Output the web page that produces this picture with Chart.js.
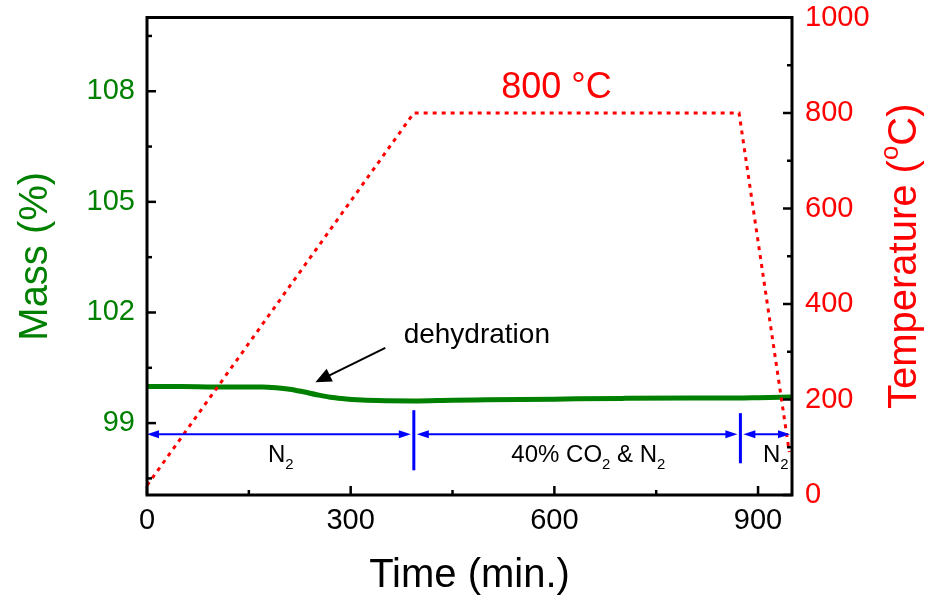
<!DOCTYPE html>
<html>
<head>
<meta charset="utf-8">
<script src="https://cdn.jsdelivr.net/npm/chart.js@4"></script>
<style>
  html, body { margin: 0; padding: 0; background: #fff; }
  #wrap { width: 944px; height: 600px; }
</style>
</head>
<body>
<div id="wrap"><canvas id="tgaChart"></canvas></div>
<script>
// mass curve (time in min., mass in %)
const massTime = [0, 50, 100, 150, 170, 190, 210, 230, 250, 270, 290, 310, 340, 393, 450, 500, 600, 700, 800, 870, 900, 950];
const massValues = [99.99, 99.99, 99.98, 99.98, 99.98, 99.96, 99.92, 99.85, 99.77, 99.70, 99.66, 99.63, 99.61, 99.60, 99.62, 99.63, 99.65, 99.67, 99.68, 99.68, 99.69, 99.71];

// furnace temperature program
const tempTime = [0, 393, 872, 946];
const tempValues = [20, 800, 800, 90];

// axis ticks
const timeTicks = [0, 300, 600, 900];
const timeMinorTicks = [150, 450, 750];
const massTicks = [99, 102, 105, 108];
const massMinorTicks = [97.5, 100.5, 103.5, 106.5, 109.5];
const tempTicks = [0, 200, 400, 600, 800, 1000];
const tempMinorTicks = [100, 300, 500, 700, 900];

// gas atmosphere phases
const phaseBounds = [0, 393, 874, 950];
const phaseNames = ["N2", "40% CO2 & N2", "N2"];
const phaseLabelTime = [197, 650, 926];
const phaseLabelMass = 98.12;
const phaseArrowMass = 98.7;
const dividerTime = [393, 874];
const dividerTop = [99.35, 99.27];
const dividerBottom = [97.72, 97.91];

// annotations
const dehydrationText = { time: 378, mass: 101.17, text: "dehydration" };
const dehydrationArrow = { fromTime: 351, fromMass: 101.04, toTime: 248, toMass: 100.11 };
const plateauText = { time: 603, temp: 852, text: "800 °C" };

const GREEN = "#008000";
const RED = "#ff0000";
const BLUE = "#0000ff";
const FONT = "'Liberation Sans', Arial, sans-serif";

function arrowHead(ctx, tipX, tipY, fromX, fromY, len, half) {
  const a = Math.atan2(tipY - fromY, tipX - fromX);
  ctx.beginPath();
  ctx.moveTo(tipX, tipY);
  ctx.lineTo(tipX - len * Math.cos(a) + half * Math.sin(a), tipY - len * Math.sin(a) - half * Math.cos(a));
  ctx.lineTo(tipX - len * Math.cos(a) - half * Math.sin(a), tipY - len * Math.sin(a) + half * Math.cos(a));
  ctx.closePath();
  ctx.fill();
}

// draws text with a "2" after a letter as subscript, centred on cx
function drawSubText(ctx, text, cx, cy, size) {
  const parts = [];
  for (let i = 0; i < text.length; i++) {
    const sub = text[i] === "2" && /[A-Z]/.test(text[i - 1] || "");
    parts.push({ ch: text[i], sub: sub });
  }
  let total = 0;
  parts.forEach((p) => {
    ctx.font = (p.sub ? size * 0.62 : size) + "px " + FONT;
    p.w = ctx.measureText(p.ch).width;
    total += p.w;
  });
  let x = cx - total / 2;
  ctx.textAlign = "left";
  ctx.textBaseline = "middle";
  parts.forEach((p) => {
    ctx.font = (p.sub ? size * 0.62 : size) + "px " + FONT;
    ctx.fillText(p.ch, x, p.sub ? cy + size * 0.38 : cy);
    x += p.w;
  });
}

const decorations = {
  id: "decorations",
  afterDatasetsDraw(chart) {
    const ctx = chart.ctx;
    const xs = chart.scales.x;
    const ym = chart.scales.yMass;
    const yt = chart.scales.yTemp;
    ctx.save();

    // phase arrows
    ctx.strokeStyle = BLUE;
    ctx.fillStyle = BLUE;
    const ay = ym.getPixelForValue(phaseArrowMass);
    for (let i = 0; i < phaseNames.length; i++) {
      const x1 = xs.getPixelForValue(phaseBounds[i]) + (i === 0 ? 0 : 3);
      const x2 = xs.getPixelForValue(phaseBounds[i + 1]) - (i === phaseNames.length - 1 ? 2 : 3);
      ctx.lineWidth = 2;
      ctx.beginPath();
      ctx.moveTo(x1 + 6, ay);
      ctx.lineTo(x2 - 6, ay);
      ctx.stroke();
      arrowHead(ctx, x1, ay, x2, ay, 12, 4);
      arrowHead(ctx, x2, ay, x1, ay, 12, 4);
    }
    ctx.lineWidth = 3;
    dividerTime.forEach((t, i) => {
      const x = xs.getPixelForValue(t);
      ctx.beginPath();
      ctx.moveTo(x, ym.getPixelForValue(dividerTop[i]));
      ctx.lineTo(x, ym.getPixelForValue(dividerBottom[i]));
      ctx.stroke();
    });

    ctx.fillStyle = "#000";
    const ly = ym.getPixelForValue(phaseLabelMass);
    phaseNames.forEach((name, i) => {
      drawSubText(ctx, name, xs.getPixelForValue(phaseLabelTime[i]), ly, 24);
    });

    // dehydration note
    ctx.font = "28px " + FONT;
    ctx.textAlign = "left";
    ctx.textBaseline = "alphabetic";
    ctx.fillText(dehydrationText.text, xs.getPixelForValue(dehydrationText.time), ym.getPixelForValue(dehydrationText.mass));
    const fx = xs.getPixelForValue(dehydrationArrow.fromTime);
    const fy = ym.getPixelForValue(dehydrationArrow.fromMass);
    const tx = xs.getPixelForValue(dehydrationArrow.toTime);
    const ty = ym.getPixelForValue(dehydrationArrow.toMass);
    ctx.strokeStyle = "#000";
    ctx.lineWidth = 2;
    ctx.beginPath();
    ctx.moveTo(fx, fy);
    ctx.lineTo(tx + (fx - tx) * 0.15, ty + (fy - ty) * 0.15);
    ctx.stroke();
    arrowHead(ctx, tx, ty, fx, fy, 16, 7);

    // plateau temperature
    ctx.fillStyle = RED;
    ctx.font = "36px " + FONT;
    ctx.textAlign = "center";
    ctx.textBaseline = "middle";
    ctx.fillText(plateauText.text, xs.getPixelForValue(plateauText.time), yt.getPixelForValue(plateauText.temp));

    ctx.restore();
  },
  afterDraw(chart) {
    const ctx = chart.ctx;
    const a = chart.chartArea;
    const xs = chart.scales.x;
    const ym = chart.scales.yMass;
    const yt = chart.scales.yTemp;
    ctx.save();
    ctx.strokeStyle = "#000";
    ctx.lineWidth = 3;
    ctx.strokeRect(a.left, a.top, a.right - a.left, a.bottom - a.top);

    ctx.lineWidth = 2.5;
    const line = (x1, y1, x2, y2) => {
      ctx.beginPath();
      ctx.moveTo(x1, y1);
      ctx.lineTo(x2, y2);
      ctx.stroke();
    };
    timeTicks.forEach((v) => { const x = xs.getPixelForValue(v); line(x, a.bottom, x, a.bottom - 9); });
    timeMinorTicks.forEach((v) => { const x = xs.getPixelForValue(v); line(x, a.bottom, x, a.bottom - 5); });
    massTicks.forEach((v) => { const y = ym.getPixelForValue(v); line(a.left, y, a.left + 9, y); });
    massMinorTicks.forEach((v) => { const y = ym.getPixelForValue(v); line(a.left, y, a.left + 5, y); });
    tempTicks.forEach((v) => { const y = yt.getPixelForValue(v); line(a.right, y, a.right - 9, y); });
    tempMinorTicks.forEach((v) => { const y = yt.getPixelForValue(v); line(a.right, y, a.right - 5, y); });

    // right axis title, read bottom to top, with superscript "o"
    const parts = [["Temperature (", 40, 0], ["o", 26, -14], ["C)", 40, 0]];
    let total = 0;
    parts.forEach((p) => { ctx.font = p[1] + "px " + FONT; total += ctx.measureText(p[0]).width; });
    ctx.translate(yt.right - 39, (a.top + a.bottom) / 2);
    ctx.rotate(-Math.PI / 2);
    ctx.fillStyle = RED;
    ctx.textAlign = "left";
    ctx.textBaseline = "middle";
    let x = -total / 2;
    parts.forEach((p) => {
      ctx.font = p[1] + "px " + FONT;
      ctx.fillText(p[0], x, p[2]);
      x += ctx.measureText(p[0]).width;
    });
    ctx.restore();
  }
};

const tickFont = { family: FONT, size: 29 };
const titleFont = { family: FONT, size: 40 };

// keep the plot frame where the reference has it
function fixY(width) {
  return (s) => { s.width = width; s.paddingTop = 0; s.paddingBottom = 0; };
}

new Chart(document.getElementById("tgaChart"), {
  type: "line",
  data: {
    datasets: [
      {
        label: "Temperature",
        data: tempTime.map((t, i) => ({ x: t, y: tempValues[i] })),
        yAxisID: "yTemp",
        borderColor: RED,
        borderWidth: 3,
        borderDash: [4, 5],
        pointRadius: 0,
        fill: false,
        tension: 0,
      },
      {
        label: "Mass",
        data: massTime.map((t, i) => ({ x: t, y: massValues[i] })),
        yAxisID: "yMass",
        borderColor: GREEN,
        borderWidth: 5,
        pointRadius: 0,
        fill: false,
        cubicInterpolationMode: "monotone",
      },
    ],
  },
  options: {
    responsive: true,
    maintainAspectRatio: false,
    animation: false,
    layout: { padding: { top: 17.5, left: 0, right: 0, bottom: 0 } },
    plugins: {
      legend: { display: false },
      tooltip: { enabled: false },
    },
    scales: {
      x: {
        type: "linear",
        min: 0,
        max: 950,
        grid: { display: false, drawTicks: false },
        border: { display: false },
        afterBuildTicks: (s) => { s.ticks = timeTicks.map((v) => ({ value: v })); },
        afterFit: (s) => { s.height = 105; s.paddingLeft = 0; s.paddingRight = 0; },
        ticks: { color: "#000", font: tickFont, padding: 9, maxRotation: 0, autoSkip: false, callback: (v) => String(v) },
        title: { display: true, text: "Time (min.)", color: "#000", font: titleFont, padding: { top: 0, bottom: 0 } },
      },
      yMass: {
        position: "left",
        min: 97.05,
        max: 110,
        grid: { display: false, drawTicks: false },
        border: { display: false },
        afterBuildTicks: (s) => { s.ticks = massTicks.map((v) => ({ value: v })); },
        afterFit: fixY(147),
        ticks: { color: GREEN, font: tickFont, padding: 12, callback: (v) => String(v) },
        title: { display: true, text: "Mass (%)", color: GREEN, font: titleFont, padding: { top: 12, bottom: 0 } },
      },
      yTemp: {
        position: "right",
        min: 0,
        max: 1000,
        grid: { display: false, drawTicks: false },
        border: { display: false },
        afterBuildTicks: (s) => { s.ticks = tempTicks.map((v) => ({ value: v })); },
        afterFit: fixY(152),
        ticks: { color: RED, font: tickFont, padding: 13, callback: (v) => String(v) },
        title: { display: false },
      },
    },
  },
  plugins: [decorations],
});
</script>
</body>
</html>
